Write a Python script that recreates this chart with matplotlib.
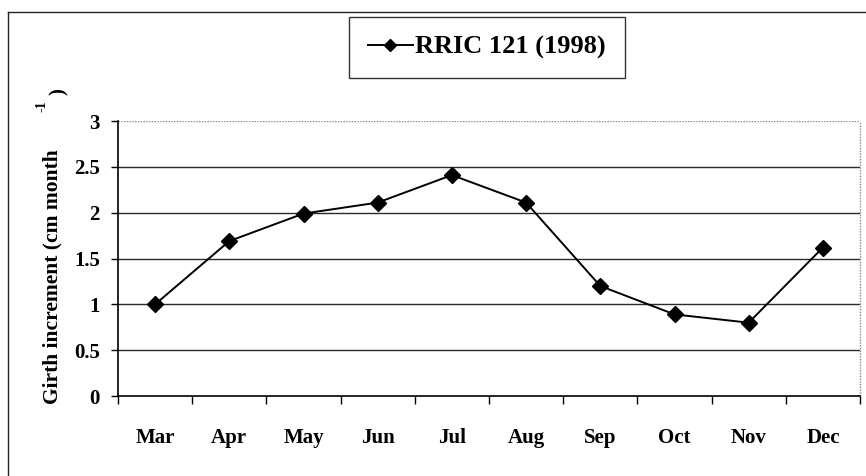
import matplotlib

matplotlib.use("Agg")
import matplotlib.pyplot as plt
from matplotlib.lines import Line2D

months = ["Mar", "Apr", "May", "Jun", "Jul", "Aug", "Sep", "Oct", "Nov", "Dec"]
girth = [1.0, 1.69, 1.99, 2.11, 2.41, 2.11, 1.2, 0.89, 0.8, 1.62]
y_ticks = [0, 0.5, 1, 1.5, 2, 2.5, 3]
y_labels = ["0", "0.5", "1", "1.5", "2", "2.5", "3"]
series_name = "RRIC 121 (1998)"

plt.rcParams["font.family"] = ["Liberation Serif", "DejaVu Serif"]
plt.rcParams["font.weight"] = "bold"

fig = plt.figure(figsize=(8.66, 4.76), dpi=100, facecolor="white")
ax = fig.add_axes([118 / 866, 1 - 396 / 476, 742 / 866, 275 / 476])

x = list(range(len(months)))
ax.plot(x, girth, color="black", linewidth=1.4, marker="D", markersize=8,
        markerfacecolor="black", markeredgecolor="black", zorder=3)

ax.set_xlim(-0.5, len(months) - 0.5)
ax.set_ylim(0, 3)

# gridlines between 0 and 3 (the top one is the plot-area border)
for yv in y_ticks[1:-1]:
    ax.axhline(yv, color="#2a2a2a", linewidth=1.0, zorder=1)
ax.axhline(3, color="#8a8a8a", linewidth=1.0, linestyle=(0, (1, 1)), zorder=1)

for side in ["top", "right"]:
    ax.spines[side].set_visible(False)
ax.plot([1, 1], [0, 3], transform=ax.get_yaxis_transform(which="grid"),
        color="#8a8a8a", linewidth=1.0, linestyle=(0, (1, 1)), clip_on=False)
ax.spines["left"].set_linewidth(1.2)
ax.spines["bottom"].set_linewidth(1.2)

ax.set_yticks(y_ticks)
ax.set_yticklabels(y_labels, fontsize=15, fontweight="bold")
ax.tick_params(axis="y", direction="out", length=5, width=1, pad=8)

ax.set_xticks(x)
ax.set_xticklabels(months, fontsize=15, fontweight="bold")
ax.set_xticks([i - 0.5 for i in range(len(months) + 1)], minor=True)
ax.tick_params(axis="x", which="major", length=0, pad=23)
ax.tick_params(axis="x", which="minor", direction="out", length=6, width=1)

# y-axis title split like the original (superscript drifts off)
fig.text(52 / 866, 1 - 277 / 476, "Girth increment (cm month", rotation=90,
         ha="center", va="center", fontsize=15.5, fontweight="bold")
fig.text(42 / 866, 1 - 106 / 476, "-1", rotation=90, ha="center", va="center",
         fontsize=10, fontweight="bold")
fig.text(59 / 866, 1 - 92 / 476, ")", rotation=90, ha="center", va="center",
         fontsize=15, fontweight="bold")

handle = Line2D([], [], color="black", linewidth=1.4, marker="D", markersize=6,
                markerfacecolor="black", markeredgecolor="black")
leg = fig.legend([handle], [series_name], loc="center",
                 bbox_to_anchor=(487 / 866, 1 - 47.5 / 476),
                 bbox_transform=fig.transFigure, fancybox=False, framealpha=1,
                 edgecolor="#333333", prop={"size": 19, "weight": "bold"},
                 handlelength=1.7, handletextpad=0.1, borderpad=0.7,
                 borderaxespad=0)
leg.get_frame().set_linewidth(1.0)

# outer chart border (only left and top edges are inside the picture)
fig.add_artist(Line2D([8 / 866, 8 / 866], [0, 1 - 12 / 476], color="#222222",
                      linewidth=1.0, transform=fig.transFigure))
fig.add_artist(Line2D([8 / 866, 1], [1 - 12 / 476, 1 - 12 / 476], color="#222222",
                      linewidth=1.0, transform=fig.transFigure))

fig.savefig("out.png", dpi=100, facecolor=fig.get_facecolor())
